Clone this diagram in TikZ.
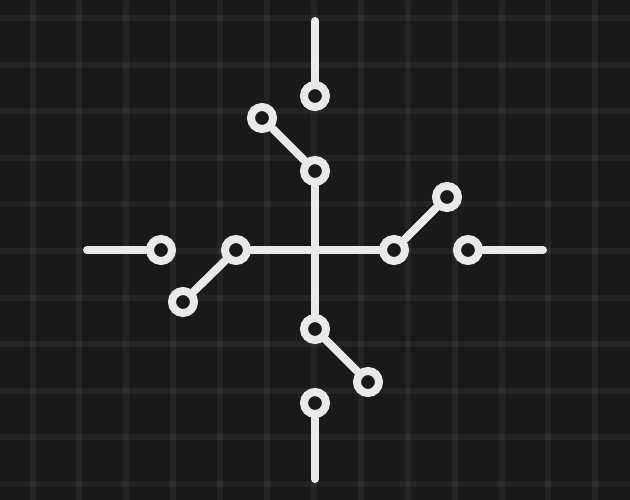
\documentclass[tikz,border=0pt]{standalone}
\definecolor{bgc}{HTML}{18191B}
\definecolor{fgc}{HTML}{E8E9E8}
\begin{document}
\begin{tikzpicture}[x=1pt,y=-1pt,
  gridline/.style={white,opacity=0.05,line width=6pt},
  wire/.style={fgc,line width=8pt,line cap=round},
  ring/.style={circle,draw=fgc,fill=bgc,line width=8pt,minimum size=22pt,inner sep=0pt}]
\fill[bgc] (0,0) rectangle (630,500);
\useasboundingbox (0,0) rectangle (630,500);
\foreach \k in {0,...,12} \draw[gridline] ({32.5+46.9*\k},0) -- ({32.5+46.9*\k},500);
\foreach \k in {0,...,10} \draw[gridline] (0,{18.5+46.5*\k}) -- (630,{18.5+46.5*\k});
% nodes
\coordinate (c) at (315,250);
\coordinate (tE) at (315,21);
\coordinate (bE) at (315,479);
\coordinate (lE) at (87,250);
\coordinate (rE) at (543,250);
\node[ring] (t1) at (315,96) {};
\node[ring] (t2) at (315,171) {};
\node[ring] (tA) at (262,118) {};
\node[ring] (r1) at (468,250) {};
\node[ring] (r2) at (394,250) {};
\node[ring] (rA) at (447,197) {};
\node[ring] (b1) at (315,403) {};
\node[ring] (b2) at (315,329) {};
\node[ring] (bA) at (368,382) {};
\node[ring] (l1) at (161,250) {};
\node[ring] (l2) at (236,250) {};
\node[ring] (lA) at (183,302) {};
% connectors
\draw[wire] (tE) -- (t1);
\draw[wire] (t2) -- (c) -- (b2);
\draw[wire] (b1) -- (bE);
\draw[wire] (lE) -- (l1);
\draw[wire] (l2) -- (c) -- (r2);
\draw[wire] (r1) -- (rE);
\draw[wire] (t2) -- (tA);
\draw[wire] (r2) -- (rA);
\draw[wire] (b2) -- (bA);
\draw[wire] (l2) -- (lA);
\end{tikzpicture}
\end{document}
